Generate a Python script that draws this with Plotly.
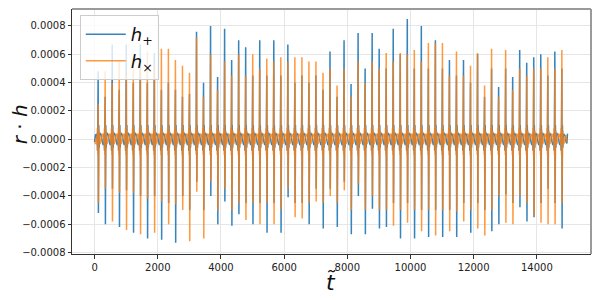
import plotly.graph_objects as go

SCALE = 1e-4  # all strain values below are in units of 1e-4

# times of the periastron bursts
burst_t = [117, 339, 562, 784, 1007, 1229, 1451, 1674, 1896, 2119, 2341, 2563,
           2786, 3008, 3231, 3453, 3675, 3898, 4120, 4343, 4565, 4787, 5010, 5232,
           5455, 5677, 5899, 6122, 6344, 6567, 6789, 7011, 7234, 7456, 7679, 7901,
           8123, 8346, 8568, 8791, 9013, 9235, 9458, 9680, 9903, 10125, 10347, 10570,
           10792, 11015, 11237, 11459, 11682, 11904, 12127, 12349, 12571, 12794, 13016,
           13239, 13461, 13683, 13906, 14128, 14351, 14573, 14795]

hp_max = [4.8, 3.0, 6.7, 3.5, 6.7, 4.0, 6.7, 4.0, 6.1, 3.5, 4.0, 3.5, 3.0, 3.2, 7.6, 4.0,
          8.0, 4.4, 7.8, 5.6, 7.0, 6.5, 4.5, 7.0, 4.5, 7.0, 4.5, 6.7, 4.0, 4.5, 4.0, 4.5,
          3.5, 6.2, 3.0, 7.0, 3.9, 7.5, 5.0, 7.5, 6.4, 5.0, 7.8, 6.0, 8.5, 5.0, 8.0, 5.0,
          7.0, 5.0, 5.6, 4.5, 5.6, 4.0, 6.0, 3.0, 5.0, 3.7, 5.0, 4.4, 6.3, 5.4, 5.8, 6.0,
          4.5, 6.2, 5.0]
hx_max = [2.5, 4.8, 4.0, 5.5, 4.5, 5.7, 5.0, 6.2, 5.2, 6.4, 6.4, 5.6, 5.2, 4.7, 7.2, 3.0,
          6.0, 3.5, 5.5, 4.5, 6.0, 4.5, 6.0, 5.0, 5.7, 5.5, 5.8, 5.5, 5.8, 5.8, 5.5, 5.5,
          4.7, 5.0, 3.8, 5.0, 3.0, 5.5, 4.0, 5.5, 5.0, 6.1, 5.5, 6.1, 6.0, 6.3, 5.5, 6.8,
          6.8, 6.8, 4.5, 6.2, 4.5, 5.2, 6.1, 3.8, 6.4, 3.0, 6.3, 3.5, 5.0, 4.5, 5.0, 5.0,
          5.8, 5.0, 6.3]
hp_min = [-5.2, -6.0, -3.5, -6.2, -3.6, -6.6, -4.0, -7.0, -4.0, -7.1, -4.5, -7.3, -4.0,
          -5.0, -3.0, -5.0, -4.0, -6.0, -4.4, -6.1, -5.3, -4.5, -6.0, -4.5, -6.6, -4.5,
          -6.6, -4.1, -4.5, -4.5, -6.0, -3.5, -6.3, -3.5, -6.2, -3.0, -6.7, -4.0, -6.7,
          -4.9, -6.3, -6.2, -4.5, -7.0, -4.5, -7.0, -5.0, -6.9, -5.0, -6.9, -5.0, -6.9,
          -4.5, -6.6, -4.5, -5.0, -6.5, -6.0, -3.9, -4.5, -4.8, -5.8, -5.5, -4.5, -3.5,
          -4.5, -6.3]
hx_min = [-4.5, -3.5, -5.8, -3.8, -6.4, -3.8, -6.7, -4.2, -6.6, -4.4, -6.0, -4.6, -5.0,
          -7.2, -3.7, -7.0, -3.0, -5.0, -3.5, -5.0, -4.5, -5.7, -4.5, -6.0, -4.5, -6.0,
          -5.0, -3.5, -5.5, -5.6, -4.5, -4.4, -4.5, -4.0, -4.5, -3.6, -5.0, -3.2, -5.0,
          -4.0, -5.0, -5.0, -6.1, -5.0, -5.9, -5.0, -6.5, -5.0, -6.8, -5.0, -6.5, -5.1,
          -5.8, -5.0, -6.3, -6.8, -5.0, -4.0, -5.9, -6.0, -4.0, -4.5, -5.4, -5.9, -6.0,
          -6.0, -4.5]

# shape of one burst (offsets from burst centre, shoulder values)
burst_off = [-40, -26, -14, -4, 4, 14, 28, 42]
hp_pre, hp_post = [0.4, -0.8, 1.2], [1.0, -0.6, 0.3]
hx_pre, hx_post = [-0.4, 0.8, -1.1], [-0.9, 0.6, -0.3]

# slow oscillation between bursts
base_off = [65, 95, 125, 155, 178]
hp_base = [0.4, 0.3, -0.15, -0.4, -0.25]
hx_base = [-0.3, 0.05, 0.35, 0.3, 0.0]

head_t = [0, 25, 50, 70]
hp_head = [-0.2, 0.3, 0.35, 0.0]
hx_head = [-0.3, -0.3, 0.1, 0.2]
tail_t = [14860, 14890, 14920, 14950, 14970]
hp_tail = [0.35, 0.25, -0.15, -0.3, 0.4]
hx_tail = [-0.3, 0.05, 0.3, -0.1, -0.2]

t_all, hp_all, hx_all = list(head_t), list(hp_head), list(hx_head)
for k, tk in enumerate(burst_t):
    hp_vals = hp_pre + [hp_max[k], hp_min[k]] + hp_post
    hx_vals = hx_pre + [hx_max[k], hx_min[k]] + hx_post
    for off, a, b in zip(burst_off, hp_vals, hx_vals):
        t_all.append(tk + off); hp_all.append(a); hx_all.append(b)
    if k < len(burst_t) - 1:
        for off, a, b in zip(base_off, hp_base, hx_base):
            t_all.append(tk + off); hp_all.append(a); hx_all.append(b)
t_all += tail_t; hp_all += hp_tail; hx_all += hx_tail

hp_all = [v * SCALE for v in hp_all]
hx_all = [v * SCALE for v in hx_all]

x_ticks = [0, 2000, 4000, 6000, 8000, 10000, 12000, 14000]
y_ticks = [-0.0008, -0.0006, -0.0004, -0.0002, 0, 0.0002, 0.0004, 0.0006, 0.0008]

fig = go.Figure()
fig.add_trace(go.Scatter(x=t_all, y=hp_all, mode="lines", name="<i>h</i><sub>+</sub>",
                         line=dict(color="rgba(31,119,180,0.9)", width=1.5, simplify=False)))
fig.add_trace(go.Scatter(x=t_all, y=hx_all, mode="lines", name="<i>h</i><sub>×</sub>",
                         line=dict(color="rgba(255,127,14,0.8)", width=1.5, simplify=False)))

axis_common = dict(showgrid=True, gridcolor="#e6e6e6", gridwidth=1, zeroline=False,
                   showline=True, linecolor="#333", linewidth=1, ticks="outside",
                   ticklen=3.5, tickwidth=0.8, tickcolor="#333", automargin=False,
                   tickfont=dict(family="DejaVu Sans", size=10, color="#222"))

fig.update_layout(
    width=600, height=300,
    margin=dict(l=72, r=9, t=9, b=46),
    plot_bgcolor="white", paper_bgcolor="white",
    xaxis=dict(range=[-715, 15714], tickvals=x_ticks,
               ticktext=[str(v) for v in x_ticks], **axis_common),
    yaxis=dict(range=[-0.00081, 0.00092], tickvals=y_ticks,
               tickformat=".4f", **axis_common),
    legend=dict(x=0.015, y=0.975, xanchor="left", yanchor="top",
                bgcolor="rgba(255,255,255,0.8)", bordercolor="#cccccc", borderwidth=1,
                font=dict(family="DejaVu Sans", size=18, color="#111"),
                tracegroupgap=0, itemwidth=40),
    showlegend=True,
    shapes=[
        dict(type="line", xref="paper", yref="paper", x0=0, x1=1, y0=1, y1=1,
             line=dict(color="#9a9a9a", width=2)),
        dict(type="line", xref="paper", yref="paper", x0=1, x1=1, y0=0, y1=1,
             line=dict(color="#9a9a9a", width=2)),
    ],
    annotations=[
        dict(text="<i>r</i> · <i>h</i>", xref="paper", yref="paper", x=-0.1, y=0.53,
             textangle=-90, showarrow=False, xanchor="center", yanchor="middle",
             font=dict(family="DejaVu Sans", size=20, color="#111")),
        dict(text="<i>t̃</i>", xref="paper", yref="paper", x=0.499, y=-0.115,
             showarrow=False, xanchor="center", yanchor="middle",
             font=dict(family="DejaVu Sans", size=22, color="#111")),
    ],
)

fig.write_html("out.html", config={"displayModeBar": False},
               post_script="document.body.style.margin='0';document.body.style.overflow='hidden';")
